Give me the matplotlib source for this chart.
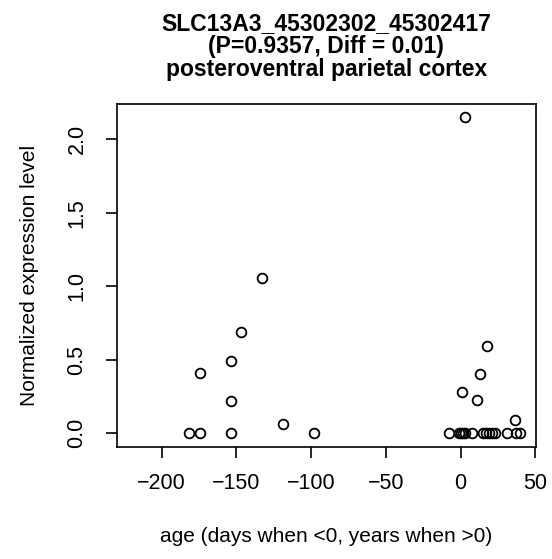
import numpy as np
import matplotlib
matplotlib.use("Agg")
import matplotlib.pyplot as plt

plt.rcParams['font.family'] = ['Liberation Sans', 'DejaVu Sans']

# samples: age (days when <0, years when >0) and expression
age = [-132.8, -146.7, -153.8, -174.6, -153.8, -118.5,
       -181.5, -174.6, -153.8, -97.8,
       3.3, 17.9, 12.9, 1.1, 11.2, 36.2,
       -8, -1, 0.5, 1.5, 3, 7.5, 15, 17, 19, 21, 23, 31, 37, 40]
expr = [1.054, 0.691, 0.492, 0.408, 0.222, 0.061,
        0.0, 0.0, 0.0, 0.0,
        2.154, 0.596, 0.403, 0.283, 0.227, 0.09,
        0, 0, 0, 0, 0, 0, 0, 0, 0, 0, 0, 0, 0, 0]

xticks = [-200, -150, -100, -50, 0, 50]
yticks = [0.0, 0.5, 1.0, 1.5, 2.0]
title_lines = ['SLC13A3_45302302_45302417',
               '(P=0.9357, Diff = 0.01)',
               'posteroventral parietal cortex']

W, H = 552, 559
fig = plt.figure(figsize=(W / 100, H / 100), dpi=100)
ax = fig.add_axes([0.2114, 0.2009, 0.7596, 0.6131])

ax.plot(age, expr, 'o', mfc='none', mec='black', ms=7, mew=1.3)

ax.set_xlim(-230, 50.5)
ax.set_ylim(-0.091, 2.24)
ax.set_xticks(xticks)
ax.set_xticklabels(['\u2212200', '\u2212150', '\u2212100', '\u221250', '0', '50'])
ax.set_yticks(yticks)
ax.set_yticklabels(['0.0', '0.5', '1.0', '1.5', '2.0'], rotation=90, va='center')

for s in ax.spines.values():
    s.set_linewidth(1.2)
ax.tick_params(length=8, width=1.2, labelsize=15.5)
ax.tick_params(axis='x', pad=11)
ax.tick_params(axis='y', pad=13)

ax.set_xlabel('age (days when <0, years when >0)', fontsize=15, labelpad=24)
ax.set_ylabel('Normalized expression level', fontsize=15, labelpad=20)

# title, one line at a time (baselines in pixels from top)
xc = (0.2114 + 0.2114 + 0.7596) / 2
for txt, base in zip(title_lines, [30, 53, 76]):
    fig.text(xc, 1 - base / H, txt, ha='center', va='baseline',
             fontsize=16.5, fontweight='bold')

fig.savefig('out.png', dpi=100)
